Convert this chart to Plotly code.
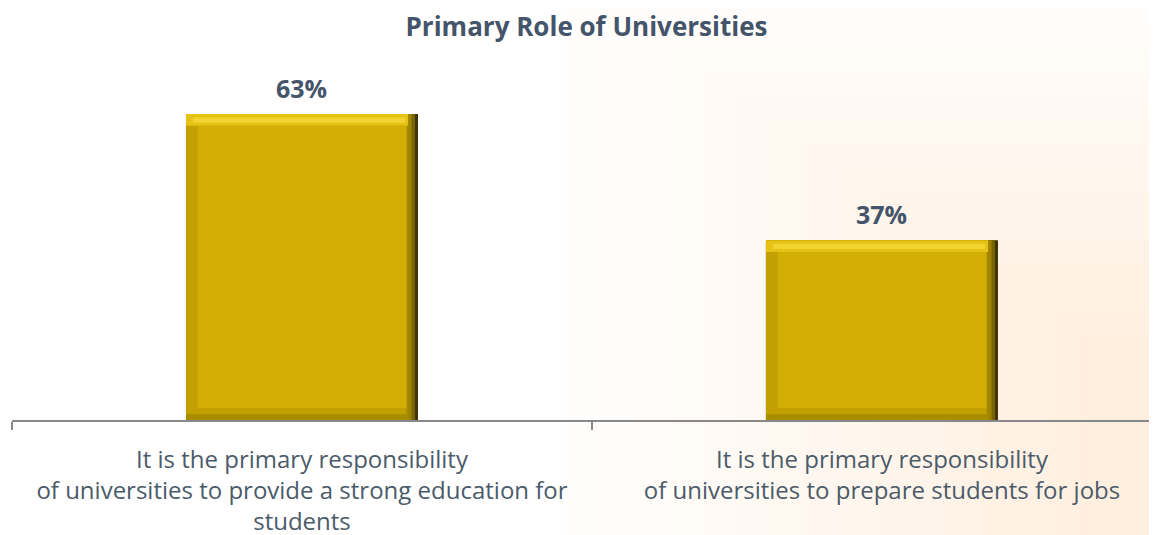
import plotly.graph_objects as go

categories = [
    "It is the primary responsibility<br>of universities to provide a strong education for<br>students",
    "It is the primary responsibility<br>of universities to prepare students for jobs",
]
values = [63, 37]
value_labels = ["63%", "37%"]
title = "Primary Role of Universities"

text_color = "#44546A"
label_color = "#4B5B6A"
face_color = "#D3AE05"

bar_w = 0.4
bev_x = 0.02   # bevel width in category units
bev_y = 2.4    # bevel height in value units

fig = go.Figure()

# warm background tint towards the lower right (decorative)
for i in range(16):
    fig.add_shape(type="rect", xref="paper", yref="paper",
                  x0=0.48 + i * 0.03, x1=1.05, y0=-0.4, y1=1.3 - i * 0.07,
                  fillcolor="#F3D2B0", opacity=0.018, line_width=0, layer="below")

# bevelled bars built from the same values
fig.add_trace(go.Bar(x=categories, y=values, width=bar_w, offset=-bar_w / 2,
                     marker=dict(color="#3E3400", line_width=0), hoverinfo="skip"))
fig.add_trace(go.Bar(x=categories, y=values, width=bar_w - 0.005, offset=-bar_w / 2,
                     marker=dict(color="#776300", line_width=0), hoverinfo="skip"))
fig.add_trace(go.Bar(x=categories, y=values, width=bar_w - 0.011, offset=-bar_w / 2,
                     marker=dict(color="#9E8400", line_width=0), hoverinfo="skip"))
# bottom bevel
fig.add_trace(go.Bar(x=categories, y=values, width=bar_w - 0.017, offset=-bar_w / 2,
                     marker=dict(color="#A88D00", line_width=0), hoverinfo="skip"))
# left bevel
fig.add_trace(go.Bar(x=categories, y=[v - bev_y for v in values], base=bev_y * 0.5,
                     width=bar_w - bev_x, offset=-bar_w / 2,
                     marker=dict(color="#C29F02", line_width=0), hoverinfo="skip"))
# top highlight
fig.add_trace(go.Bar(x=categories, y=[bev_y for v in values], base=[v - bev_y for v in values],
                     width=bar_w - 0.017, offset=-bar_w / 2,
                     marker=dict(color="#E5C214", line_width=0), hoverinfo="skip"))
fig.add_trace(go.Bar(x=categories, y=[bev_y * 0.45 for v in values],
                     base=[v - bev_y * 0.75 for v in values],
                     width=bar_w - 0.034, offset=-bar_w / 2 + 0.012,
                     marker=dict(color="#F1D331", line_width=0), hoverinfo="skip"))
# main face
fig.add_trace(go.Bar(x=categories, y=[v - 2 * bev_y for v in values], base=bev_y,
                     width=bar_w - 2 * bev_x, offset=-bar_w / 2 + bev_x,
                     marker=dict(color=face_color, line_width=0), hoverinfo="skip"))

for c, v, t in zip(categories, values, value_labels):
    fig.add_annotation(x=c, y=v, text="<b>%s</b>" % t, showarrow=False,
                       yanchor="middle", yshift=26,
                       font=dict(family="Open Sans", size=25, color=text_color))

fig.update_layout(
    width=1157, height=535,
    margin=dict(l=4, r=0, t=72, b=123),
    paper_bgcolor="white", plot_bgcolor="rgba(0,0,0,0)",
    showlegend=False, barmode="overlay",
    title=dict(text="<b>%s</b>" % title, x=0.5, xanchor="center", y=0.964, yanchor="middle",
               font=dict(family="Open Sans", size=26, color=text_color)),
    xaxis=dict(type="category", range=[-0.5, 1.488], tickson="boundaries",
               ticks="outside", ticklen=8, tickwidth=2, tickcolor="#888888",
               showline=True, linecolor="#888888", linewidth=2, showgrid=False,
               tickfont=dict(family="Open Sans", size=24, color=label_color),
               ticklabelstandoff=17),
    yaxis=dict(range=[0, 70], visible=False, showgrid=False, zeroline=False),
)

fig.write_html("out.html")
